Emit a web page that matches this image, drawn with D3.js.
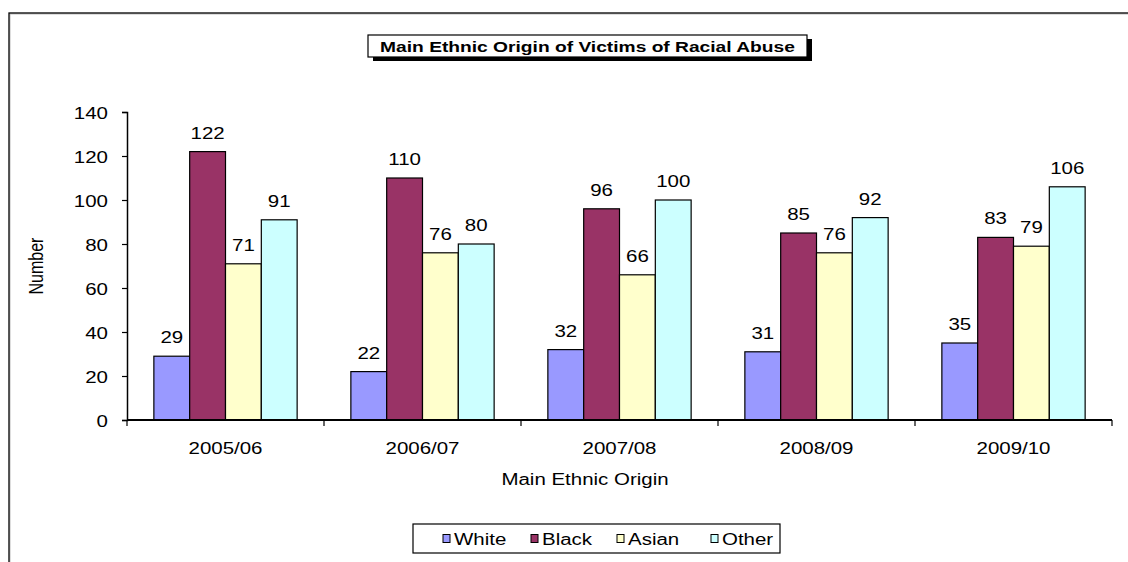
<!DOCTYPE html>
<html>
<head>
<meta charset="utf-8">
<script src="https://cdn.jsdelivr.net/npm/d3@7/dist/d3.min.js"></script>
<style>
  html, body { margin: 0; padding: 0; background: #fff; }
  svg { display: block; font-family: "Liberation Sans", Arial, sans-serif; }
</style>
</head>
<body>
<svg id="chart" width="1128" height="562"></svg>
<script>
// Victims of racial abuse by main ethnic origin, per year
const years = ["2005/06", "2006/07", "2007/08", "2008/09", "2009/10"];
const groups = ["White", "Black", "Asian", "Other"];
const white = [29, 22, 32, 31, 35];
const black = [122, 110, 96, 85, 83];
const asian = [71, 76, 66, 76, 79];
const other = [91, 80, 100, 92, 106];
const yTicks = [0, 20, 40, 60, 80, 100, 120, 140];
const colors = ["#9999FF", "#993366", "#FFFFCC", "#CCFFFF"];

const seriesValues = [white, black, asian, other];
const rows = years.map((y, i) => ({
  year: y,
  values: groups.map((g, j) => ({ group: g, value: seriesValues[j][i], color: colors[j] }))
}));

// Text in this chart is set in a horizontally widened face
const SX = 1.28;
function place(sel, x, y) {
  sel.attr("x", 0).attr("y", 0)
     .attr("transform", (d, i) => `translate(${typeof x === "function" ? x(d, i) : x},${typeof y === "function" ? y(d, i) : y}) scale(${SX},1)`);
  return sel;
}

const svg = d3.select("#chart");

// Outer chart frame (extends beyond the visible area on the right and bottom)
svg.append("rect")
  .attr("x", 10).attr("y", 14).attr("width", 1140).attr("height", 580)
  .attr("fill", "none").attr("stroke", "#bbb").attr("stroke-width", 1);
svg.append("rect")
  .attr("x", 9).attr("y", 13).attr("width", 1140).attr("height", 580)
  .attr("fill", "none").attr("stroke", "#000").attr("stroke-width", 1.3);

const plot = { left: 127, right: 1112, top: 112, bottom: 420 };

const x0 = d3.scaleBand().domain(years).range([plot.left, plot.right]).paddingInner(0).paddingOuter(0);
// Gap between groups equals 1.5 bar widths
const barW = x0.bandwidth() / (groups.length + 1.5);
const x1 = d3.scaleBand().domain(groups).range([0, barW * groups.length]);
const y = d3.scaleLinear().domain([0, 140]).range([plot.bottom, plot.top]);

// Bars
const g = svg.append("g");
const yearG = g.selectAll("g.year").data(rows).join("g")
  .attr("class", "year")
  .attr("transform", d => `translate(${x0(d.year) + (x0.bandwidth() - barW * groups.length) / 2},0)`);

yearG.selectAll("rect").data(d => d.values).join("rect")
  .attr("x", d => x1(d.group))
  .attr("y", d => y(d.value))
  .attr("width", x1.bandwidth())
  .attr("height", d => y(0) - y(d.value))
  .attr("fill", d => d.color)
  .attr("stroke", "#000")
  .attr("stroke-width", 1.2);

yearG.selectAll("text").data(d => d.values).join("text")
  .attr("text-anchor", "middle")
  .attr("font-size", 16)
  .attr("fill", "#000")
  .text(d => d.value)
  .call(place, d => x1(d.group) + x1.bandwidth() / 2, d => y(d.value) - 13);

// Y axis
const yAxis = svg.append("g")
  .attr("transform", `translate(${plot.left},0)`)
  .call(d3.axisLeft(y).tickValues(yTicks).tickSize(5).tickPadding(10));
yAxis.select(".domain").attr("stroke", "#000").attr("stroke-width", 1.5);
yAxis.selectAll(".tick line").attr("stroke", "#000").attr("stroke-width", 1.2);
yAxis.selectAll(".tick text")
  .attr("font-size", 16).attr("fill", "#000")
  .attr("font-family", "Liberation Sans, Arial, sans-serif")
  .attr("dy", null)
  .call(place, -19, 6);

// X axis: tick marks sit between the year groups
const xAxisG = svg.append("g").attr("transform", `translate(0,${plot.bottom})`);
xAxisG.append("line")
  .attr("x1", plot.left).attr("x2", plot.right)
  .attr("stroke", "#000").attr("stroke-width", 2);
const boundaries = years.map(d => x0(d)).concat([x0(years[years.length - 1]) + x0.bandwidth()]);
xAxisG.selectAll("line.tick").data(boundaries).join("line")
  .attr("class", "tick")
  .attr("x1", d => d).attr("x2", d => d)
  .attr("y1", 0).attr("y2", 6)
  .attr("stroke", "#000").attr("stroke-width", 1.2);
xAxisG.selectAll("text").data(years).join("text")
  .attr("text-anchor", "middle")
  .attr("font-size", 16)
  .text(d => d)
  .call(place, d => x0(d) + x0.bandwidth() / 2, 34);

// Axis titles
svg.append("text")
  .attr("text-anchor", "middle").attr("font-size", 16)
  .text("Main Ethnic Origin")
  .call(place, 585, 485);
svg.append("text")
  .attr("transform", `translate(43,266) rotate(-90) scale(1,${SX})`)
  .attr("text-anchor", "middle").attr("font-size", 16)
  .text("Number");

// Title box with drop shadow
const tb = { x: 368, y: 35, w: 439, h: 22 };
svg.append("rect")
  .attr("x", tb.x + 5).attr("y", tb.y + 4).attr("width", tb.w).attr("height", tb.h)
  .attr("fill", "#000");
svg.append("rect")
  .attr("x", tb.x).attr("y", tb.y).attr("width", tb.w).attr("height", tb.h)
  .attr("fill", "#fff").attr("stroke", "#000").attr("stroke-width", 1.2);
svg.append("text")
  .attr("text-anchor", "middle").attr("font-size", 15).attr("font-weight", "bold")
  .text("Main Ethnic Origin of Victims of Racial Abuse")
  .call(place, tb.x + tb.w / 2, tb.y + 17);

// Legend
const lg = { x: 413, y: 524, w: 367, h: 29 };
svg.append("rect")
  .attr("x", lg.x).attr("y", lg.y).attr("width", lg.w).attr("height", lg.h)
  .attr("fill", "#fff").attr("stroke", "#000").attr("stroke-width", 1.2);
const legendX = [443, 531, 617, 711];
const items = svg.selectAll("g.legend").data(groups).join("g")
  .attr("class", "legend")
  .attr("transform", (d, i) => `translate(${legendX[i]},${lg.y + lg.h / 2})`);
items.append("rect")
  .attr("x", 0).attr("y", -4).attr("width", 7).attr("height", 8)
  .attr("fill", (d, i) => colors[i]).attr("stroke", "#000").attr("stroke-width", 1);
items.append("text")
  .attr("font-size", 16)
  .text(d => d)
  .call(place, 11, 6);
</script>
</body>
</html>
